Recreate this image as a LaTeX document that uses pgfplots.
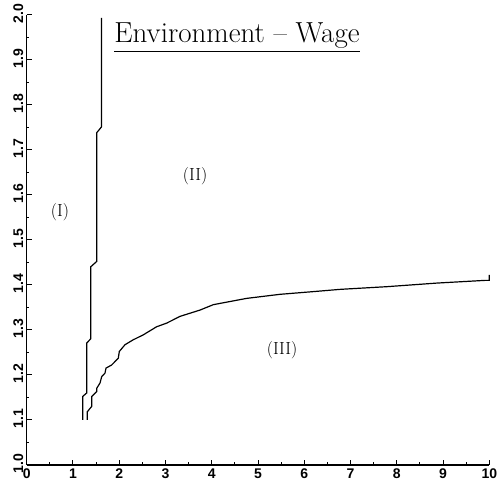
\documentclass[border=0pt]{standalone}
\usepackage{fontspec}
\usepackage{pgfplots}
\pgfplotsset{compat=1.18}
\newfontfamily\tickfont{Liberation Sans}
\begin{document}
\begin{tikzpicture}
\begin{axis}[
  scale only axis,
  width=462.6pt, height=450pt,
  xmin=0, xmax=10, ymin=1, ymax=2,
  axis lines*=left,
  axis line style={line width=1.4pt},
  clip=false,
  tick align=inside,
  xtick={0,1,2,3,4,5,6,7,8,9,10},
  ytick={1.0,1.1,1.2,1.3,1.4,1.5,1.6,1.7,1.8,1.9,2.0},
  minor x tick num=1,
  minor y tick num=1,
  major tick length=5pt,
  minor tick length=2.5pt,
  every tick/.style={black, line width=1pt},
  tick label style={font=\tickfont\bfseries\fontsize{14}{14}\selectfont},
  /pgf/number format/assume math mode=true,
  yticklabel style={rotate=90, anchor=south, xshift=1pt,
    /pgf/number format/.cd, fixed, fixed zerofill, precision=1},
]
% left boundary, (I)/(II)
\addplot[black, line width=1.2pt] coordinates {
  (1.21,1.100) (1.21,1.152) (1.30,1.160) (1.30,1.271)
  (1.383,1.280) (1.383,1.440) (1.513,1.452) (1.513,1.738)
  (1.617,1.751) (1.617,1.993)
};
% lower boundary, (II)/(III)
\addplot[black, line width=1.2pt] coordinates {
  (1.31,1.100) (1.31,1.118) (1.405,1.130) (1.405,1.152)
  (1.513,1.163) (1.513,1.170) (1.585,1.182) (1.621,1.196)
  (1.693,1.204) (1.714,1.215) (1.837,1.222) (1.980,1.237)
  (2.002,1.252) (2.125,1.267) (2.304,1.278) (2.521,1.289)
  (2.810,1.307) (3.026,1.315) (3.314,1.330) (3.746,1.344)
  (4.034,1.356) (4.756,1.370) (5.476,1.379) (6.195,1.385)
  (6.773,1.390) (7.789,1.396) (8.870,1.404) (9.913,1.410)
  (10.0,1.410) (10.0,1.422)
};
\node[anchor=base, inner sep=0pt, font=\fontsize{29}{34}\selectfont] (t)
  at (axis cs:4.546,1.938) {Environment -- Wage};
\draw[line width=1.4pt] ([yshift=-9pt]t.base west) -- ([yshift=-9pt]t.base east);
\node[font=\fontsize{17.5}{21}\selectfont] at (axis cs:0.72,1.562) {(I)};
\node[font=\fontsize{17.5}{21}\selectfont] at (axis cs:3.64,1.642) {(II)};
\node[font=\fontsize{17.5}{21}\selectfont] at (axis cs:5.52,1.256) {(III)};
\coordinate (bl) at (axis cs:-0.577,0.94);
\coordinate (tr) at (axis cs:10.166,2.033);
\end{axis}
\pgfresetboundingbox
\path[use as bounding box] (bl) rectangle (tr);
\end{tikzpicture}
\end{document}
